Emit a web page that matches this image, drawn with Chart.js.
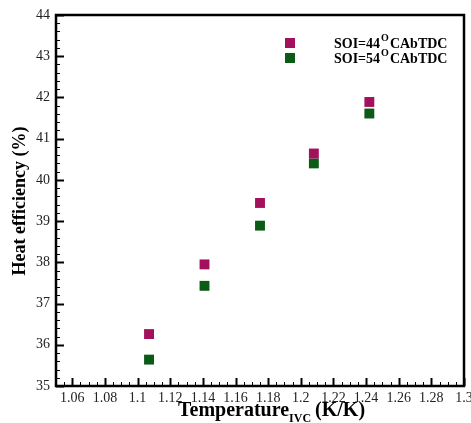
<!DOCTYPE html>
<html>
<head>
<meta charset="utf-8">
<script src="https://cdn.jsdelivr.net/npm/chart.js@4"></script>
<style>
    html, body { margin: 0; padding: 0; background: #fff; }
    #wrap { width: 471px; height: 423px; }
</style>
</head>
<body>
<div id="wrap"><canvas id="heatChart" width="471" height="423"></canvas></div>
<script>
// Data
const temperatures = [1.107, 1.141, 1.175, 1.208, 1.242];
const soi44 = [36.26, 37.95, 39.44, 40.64, 41.89];
const soi54 = [35.64, 37.43, 38.89, 40.40, 41.61];
const seriesNames = ['SOI=44', 'SOI=54'];
const xTicks = [1.06, 1.08, 1.1, 1.12, 1.14, 1.16, 1.18, 1.2, 1.22, 1.24, 1.26, 1.28, 1.3];
const yTicks = [35, 36, 37, 38, 39, 40, 41, 42, 43, 44];

const colors = ['#a3105c', '#0b5a16'];
const serif = '"Liberation Serif", "Times New Roman", serif';

function toPoints(xs, ys) {
    return xs.map((x, i) => ({ x: x, y: ys[i] }));
}

// Frame, inward ticks, titles and legend
const decorPlugin = {
    id: 'decor',
    afterDraw(chart) {
        const ctx = chart.ctx;
        const area = chart.chartArea;
        const xs = chart.scales.x;
        const ys = chart.scales.y;
        ctx.save();
        ctx.strokeStyle = '#000';

        // minor + major ticks on x axis
        for (let v = 1.05; v <= 1.3001; v += 0.005) {
            const px = Math.round(xs.getPixelForValue(v)) + 0.5;
            const major = xTicks.some(t => Math.abs(t - v) < 1e-6);
            ctx.lineWidth = major ? 2 : 1;
            ctx.beginPath();
            ctx.moveTo(px, area.bottom);
            ctx.lineTo(px, area.bottom - (major ? 8 : 4));
            ctx.stroke();
        }
        // y axis ticks
        for (let v = 35; v <= 44.001; v += 0.2) {
            const py = Math.round(ys.getPixelForValue(v)) + 0.5;
            const major = yTicks.some(t => Math.abs(t - v) < 1e-6);
            ctx.lineWidth = major ? 2 : 1;
            ctx.beginPath();
            ctx.moveTo(area.left, py);
            ctx.lineTo(area.left + (major ? 8 : 4), py);
            ctx.stroke();
        }

        // frame
        ctx.lineWidth = 2.5;
        ctx.strokeRect(area.left, area.top, area.right - area.left, area.bottom - area.top);

        // x title with subscript
        ctx.fillStyle = '#000';
        ctx.textBaseline = 'alphabetic';
        ctx.textAlign = 'left';
        ctx.font = 'bold 20px ' + serif;
        let x = 178;
        const base = 416;
        ctx.fillText('Temperature', x, base);
        x += ctx.measureText('Temperature').width;
        ctx.font = 'bold 12px ' + serif;
        ctx.fillText('IVC', x, base + 6);
        x += ctx.measureText('IVC').width + 4;
        ctx.font = 'bold 20px ' + serif;
        ctx.fillText('(K/K)', x, base);

        // y title
        ctx.save();
        ctx.translate(25, 201);
        ctx.rotate(-Math.PI / 2);
        ctx.textAlign = 'center';
        ctx.font = 'bold 18px ' + serif;
        ctx.fillText('Heat efficiency (%)', 0, 0);
        ctx.restore();

        // legend
        const rows = [43, 58];
        seriesNames.forEach((name, i) => {
            ctx.fillStyle = colors[i];
            ctx.fillRect(285, rows[i] - 5, 10, 10);
            ctx.fillStyle = '#000';
            ctx.font = 'bold 14px ' + serif;
            let lx = 334;
            const by = rows[i] + 5;
            ctx.fillText(name, lx, by);
            lx += ctx.measureText(name).width + 1;
            ctx.font = 'bold 10px ' + serif;
            ctx.fillText('O', lx, by - 7);
            lx += ctx.measureText('O').width + 1;
            ctx.font = 'bold 14px ' + serif;
            ctx.fillText('CAbTDC', lx, by);
        });
        ctx.restore();
    }
};

const ctx = document.getElementById('heatChart').getContext('2d');
new Chart(ctx, {
    type: 'scatter',
    data: {
        datasets: [
            {
                label: seriesNames[0],
                data: toPoints(temperatures, soi44),
                backgroundColor: colors[0],
                borderColor: colors[0],
                pointStyle: 'rect',
                pointRadius: 7,
                borderWidth: 0
            },
            {
                label: seriesNames[1],
                data: toPoints(temperatures, soi54),
                backgroundColor: colors[1],
                borderColor: colors[1],
                pointStyle: 'rect',
                pointRadius: 7,
                borderWidth: 0
            }
        ]
    },
    options: {
        responsive: false,
        animation: false,
        layout: { padding: { top: 15, right: 5, left: 0, bottom: 0 } },
        plugins: {
            legend: { display: false },
            tooltip: { enabled: false }
        },
        scales: {
            x: {
                type: 'linear',
                min: 1.05,
                max: 1.3,
                afterBuildTicks(scale) {
                    scale.ticks = xTicks.map(v => ({ value: v }));
                },
                afterFit(scale) {
                    scale.height = 37;
                    scale.paddingLeft = 0;
                    scale.paddingRight = 0;
                },
                grid: { display: false, drawTicks: false },
                border: { display: false },
                ticks: {
                    padding: 4,
                    color: '#222',
                    font: { family: serif, size: 14 },
                    maxRotation: 0,
                    autoSkip: false,
                    callback: v => String(+v.toFixed(2))
                }
            },
            y: {
                type: 'linear',
                min: 35,
                max: 44,
                afterBuildTicks(scale) {
                    scale.ticks = yTicks.map(v => ({ value: v }));
                },
                afterFit(scale) {
                    scale.width = 56;
                    scale.paddingTop = 0;
                    scale.paddingBottom = 0;
                },
                grid: { display: false, drawTicks: false },
                border: { display: false },
                ticks: {
                    padding: 6,
                    color: '#222',
                    font: { family: serif, size: 14 },
                    autoSkip: false
                }
            }
        }
    },
    plugins: [decorPlugin]
});
</script>
</body>
</html>
